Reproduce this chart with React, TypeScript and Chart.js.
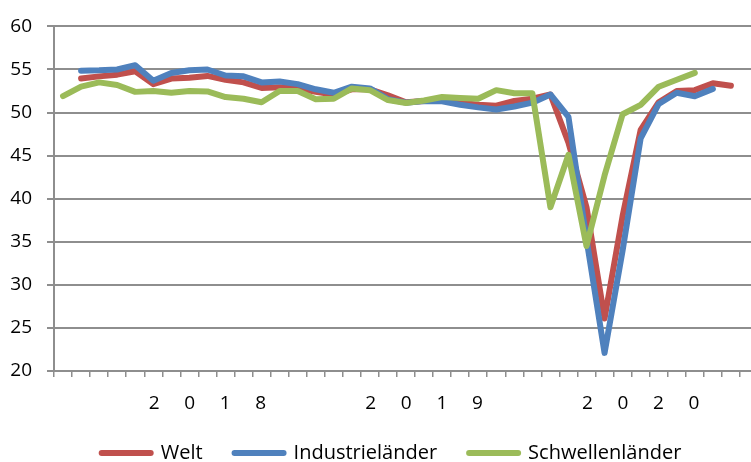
import React, { useEffect, useRef } from "react";
import { Chart, registerables } from "chart.js";

Chart.register(...registerables);

const categories: string[] = [
  "", "", "", "", "", "", "", "", "2     0     1     8", "", "", "", "",
  "", "", "", "", "", "", "", "2     0     1     9", "", "", "", "",
  "", "", "", "", "", "", "", "2     0     2     0", "", "", "", "",
  "", "",
];

const welt: (number | null)[] = [
  null, 53.95, 54.2, 54.4, 54.8, 53.3, 53.95, 54.05, 54.25, 53.8, 53.5, 52.85,
  52.95, 52.8, 52.4, 52.1, 52.7, 52.7, 52.0, 51.2, 51.35, 51.4, 51.15, 50.9,
  50.8, 51.35, 51.6, 52.1, 46.5, 39.0, 26.1, 38.0, 48.0, 51.2, 52.5, 52.6,
  53.4, 53.1, null,
];

const industrielaender: (number | null)[] = [
  null, 54.85, 54.9, 55.0, 55.5, 53.7, 54.6, 54.9, 55.0, 54.3, 54.2, 53.5,
  53.6, 53.3, 52.7, 52.3, 53.0, 52.8, 51.55, 51.15, 51.35, 51.3, 50.9, 50.6,
  50.35, 50.7, 51.15, 52.1, 49.5, 35.3, 22.1, 34.0, 47.0, 51.0, 52.3, 51.9,
  52.75, null, null,
];

const schwellenlaender: (number | null)[] = [
  51.9, 53.0, 53.5, 53.2, 52.4, 52.5, 52.3, 52.5, 52.45, 51.8, 51.6, 51.2,
  52.5, 52.5, 51.55, 51.6, 52.8, 52.6, 51.45, 51.1, 51.4, 51.8, 51.7, 51.6,
  52.6, 52.25, 52.25, 39.0, 45.1, 34.5, 42.7, 49.8, 50.9, 53.0, 53.8, 54.6,
  null, null, null,
];

const seriesNames = ["Welt", "Industrieländer", "Schwellenländer"];
const seriesColors = ["#C0504D", "#4F81BD", "#9BBB59"];

const FONT = "'Open Sans', 'DejaVu Sans', sans-serif";
const GRID = "#8e8e8e";

const legendShift = {
  id: "legendShift",
  afterLayout(chart: any) {
    const l = chart.legend;
    if (l) {
      l.left += 12.5;
      l.right += 12.5;
    }
  },
};

export default function App() {
  const ref = useRef<HTMLCanvasElement | null>(null);

  useEffect(() => {
    if (!ref.current) return;
    const values = [welt, industrielaender, schwellenlaender];
    const chart = new Chart(ref.current, {
      type: "line",
      data: {
        labels: categories,
        datasets: values.map((d, i) => ({
          label: seriesNames[i],
          data: d,
          borderColor: seriesColors[i],
          backgroundColor: seriesColors[i],
          pointBorderColor: seriesColors[i],
          pointBorderWidth: 6,
          borderWidth: 6,
          pointRadius: 0,
          pointHoverRadius: 0,
          tension: 0,
          fill: false,
          borderJoinStyle: "round" as const,
          borderCapStyle: "round" as const,
          order: 2 - i,
        })),
      },
      plugins: [legendShift],
      options: {
        animation: false,
        responsive: false,
        maintainAspectRatio: false,
        layout: { padding: { left: 0, right: 25, top: 21, bottom: 2 } },
        plugins: {
          tooltip: { enabled: false },
          legend: {
            position: "bottom",
            labels: {
              usePointStyle: true,
              pointStyle: "line",
              pointStyleWidth: 49,
              padding: 32,
              color: "#000",
              font: { family: FONT, size: 20 },
              generateLabels: (c: any) =>
                Chart.defaults.plugins.legend.labels
                  .generateLabels(c)
                  .sort((a: any, b: any) => a.datasetIndex - b.datasetIndex)
                  .map((l: any) => ({
                    ...l,
                    lineCap: "round",
                    lineWidth: 6,
                    strokeStyle: seriesColors[l.datasetIndex],
                  })),
            },
          },
        },
        scales: {
          x: {
            type: "category",
            offset: true,
            grid: {
              display: true,
              drawOnChartArea: false,
              drawTicks: true,
              tickLength: 6,
              color: GRID,
              lineWidth: 1.5,
              offset: true,
            },
            border: { display: true, color: GRID, width: 2 },
            ticks: {
              autoSkip: false,
              maxRotation: 0,
              minRotation: 0,
              padding: 15,
              color: "#000",
              font: { family: FONT, size: 19 },
            },
            afterFit: (s: any) => {
              s.height = 40;
            },
          },
          y: {
            min: 20,
            max: 60,
            ticks: {
              stepSize: 5,
              padding: 15,
              color: "#000",
              font: { family: FONT, size: 19 },
            },
            grid: {
              color: GRID,
              lineWidth: 2,
              tickLength: 7,
            },
            border: { display: true, color: GRID, width: 2 },
            afterFit: (s: any) => {
              s.width = 54;
            },
          },
        },
      },
    });
    return () => chart.destroy();
  }, []);

  return (
    <div
      style={{
        position: "fixed",
        left: 0,
        top: 0,
        width: 751,
        height: 462,
        overflow: "hidden",
        background: "#fff",
      }}
    >
      <canvas
        ref={ref}
        width={783}
        height={475}
        style={{ width: 783, height: 475, display: "block" }}
      />
    </div>
  );
}
